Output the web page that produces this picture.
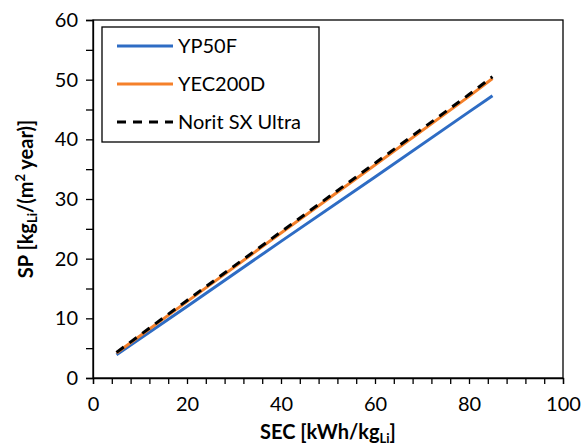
<!DOCTYPE html>
<html>
<head>
<meta charset="utf-8">
<script src="https://cdn.jsdelivr.net/npm/d3@7"></script>
<style>
  body { margin: 0; background: #fff; }
  svg text { font-family: Lato, 'Open Sans', sans-serif; fill: #000; }
</style>
</head>
<body>
<div id="chart"></div>
<script>
// DATA
const secValues = [5, 20, 40, 60, 80, 85];
const yp50f = [3.9, 12.0, 22.9, 33.7, 44.6, 47.3];
const yec200d = [4.2, 12.8, 24.3, 35.7, 47.2, 50.2];
const noritSX = [4.3, 13.0, 24.5, 36.0, 47.5, 50.5];
const seriesNames = ['YP50F', 'YEC200D', 'Norit SX Ultra'];
const xTicks = [0, 20, 40, 60, 80, 100];
const yTicks = [0, 10, 20, 30, 40, 50, 60];

const series = [
  { name: seriesNames[0], values: yp50f, color: '#2e6cc4', dash: null },
  { name: seriesNames[1], values: yec200d, color: '#f5802a', dash: null },
  { name: seriesNames[2], values: noritSX, color: '#000', dash: '9,7' }
];

const width = 582;
const height = 445;
const margin = { top: 20, right: 19, bottom: 67, left: 93 };

const svg = d3
  .select('#chart')
  .append('svg')
  .attr('width', width)
  .attr('height', height);

const x = d3
  .scaleLinear()
  .domain([0, 100])
  .range([margin.left, width - margin.right]);

const y = d3
  .scaleLinear()
  .domain([0, 60])
  .range([height - margin.bottom, margin.top]);

// frame
svg
  .append('rect')
  .attr('x', x(0))
  .attr('y', y(60))
  .attr('width', x(100) - x(0))
  .attr('height', y(0) - y(60))
  .attr('fill', 'none')
  .attr('stroke', '#000')
  .attr('stroke-width', 1.3);

// AXES
const xAxis = d3
  .axisBottom(x)
  .tickValues(d3.range(0, 101, 4))
  .tickSize(6)
  .tickPadding(8)
  .tickFormat(d => (xTicks.includes(d) ? d : ''));

const yAxis = d3
  .axisLeft(y)
  .tickValues(d3.range(0, 61, 5))
  .tickSize(7)
  .tickPadding(8)
  .tickFormat(d => (yTicks.includes(d) ? d : ''));

const gx = svg
  .append('g')
  .attr('transform', `translate(0, ${y(0)})`)
  .call(xAxis);

const gy = svg
  .append('g')
  .attr('transform', `translate(${x(0)}, 0)`)
  .call(yAxis);

[gx, gy].forEach(g => {
  g.select('.domain').attr('stroke', '#000').attr('stroke-width', 1.3);
  g.selectAll('.tick line').attr('stroke', '#000').attr('stroke-width', 1.3);
  g.selectAll('.tick text')
    .style('font-family', "Lato, 'Open Sans', sans-serif")
    .attr('font-size', 20)
    .attr('fill', '#000');
});
gx.selectAll('.tick text').attr('dy', '0.95em');

// axis titles
const xTitle = svg
  .append('text')
  .attr('x', (x(0) + x(100)) / 2)
  .attr('y', 439)
  .attr('text-anchor', 'middle')
  .attr('font-size', 20)
  .attr('font-weight', 'bold');
xTitle.append('tspan').text('SEC [kWh/kg');
xTitle.append('tspan').attr('font-size', 13).attr('dy', 4).text('Li');
xTitle.append('tspan').attr('dy', -4).text(']');

const yTitle = svg
  .append('text')
  .attr('transform', `translate(33, ${(y(0) + y(60)) / 2}) rotate(-90)`)
  .attr('text-anchor', 'middle')
  .attr('font-size', 20)
  .attr('font-weight', 'bold');
yTitle.append('tspan').text('SP [kg');
yTitle.append('tspan').attr('font-size', 13).attr('dy', 4).text('Li');
yTitle.append('tspan').attr('dy', -4).text('/(m');
yTitle.append('tspan').attr('font-size', 13).attr('dy', -8).text('2');
yTitle.append('tspan').attr('dy', 8).text(' year)]');

// LINES
const line = d3
  .line()
  .x((d, i) => x(secValues[i]))
  .y(d => y(d));

svg
  .append('g')
  .selectAll('path')
  .data(series)
  .enter()
  .append('path')
  .attr('d', d => line(d.values))
  .attr('fill', 'none')
  .attr('stroke', d => d.color)
  .attr('stroke-width', 3)
  .attr('stroke-dasharray', d => d.dash);

// LEGEND
const legend = svg.append('g').attr('transform', 'translate(102, 27)');
legend
  .append('rect')
  .attr('width', 217)
  .attr('height', 115)
  .attr('fill', '#fff')
  .attr('stroke', '#000')
  .attr('stroke-width', 1.3);

const items = legend
  .selectAll('.item')
  .data(series)
  .enter()
  .append('g')
  .attr('transform', (d, i) => `translate(0, ${19 + i * 38})`);

items
  .append('line')
  .attr('x1', 15)
  .attr('x2', 71)
  .attr('stroke', d => d.color)
  .attr('stroke-width', 3)
  .attr('stroke-dasharray', d => d.dash);

items
  .append('text')
  .attr('x', 76)
  .attr('y', 7)
  .attr('font-size', 20)
  .text(d => d.name);
</script>
</body>
</html>
